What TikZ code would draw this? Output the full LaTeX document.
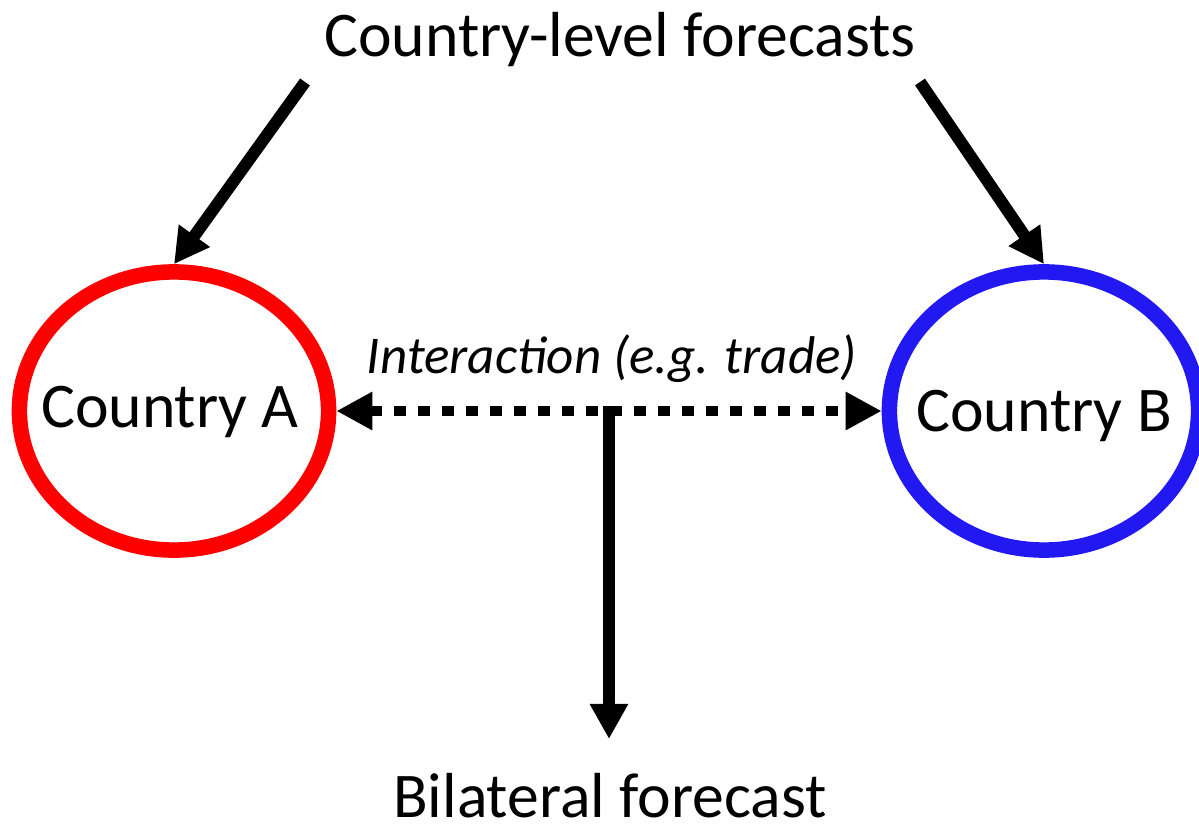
\documentclass[tikz,border=0pt]{standalone}
\usepackage{fontspec}
\setmainfont{Carlito}
\usetikzlibrary{shapes.geometric,arrows.meta}
\definecolor{cred}{RGB}{255,0,0}
\definecolor{cblue}{RGB}{34,24,242}
\tikzset{
  country/.style={ellipse, draw, line width=0.155cm, inner sep=0pt, minimum width=3.09cm, minimum height=2.78cm},
  bigtext/.style={font=\fontsize{18.1}{21}\selectfont, inner sep=0pt, anchor=base},
  smalltext/.style={font=\fontsize{15.1}{18}\selectfont\itshape, inner sep=0pt, anchor=base},
  solidarrow/.style={line width=0.12cm, -{Triangle[length=0.35cm,width=0.36cm]}},
  dotarrow/.style={line width=0.1cm, dash pattern=on 0.115cm off 0.125cm, {Triangle[length=0.36cm,width=0.36cm]}-{Triangle[length=0.36cm,width=0.36cm]}}
}
\begin{document}
\begin{tikzpicture}[x=0.01cm,y=-0.01cm]
\useasboundingbox (0,0) rectangle (1199,827);
\node[country, draw=cred] (A) at (174,411) {};
\node[country, draw=cblue] (B) at (1044,411) {};
\node[bigtext] (Atext) at (170,427) {Country A};
\node[bigtext] (Btext) at (1044,431) {Country B};
\node[bigtext] (title) at (620,56) {Country-level forecasts};
\node[bigtext] (bil) at (610,817) {Bilateral forecast};
\node[smalltext] (inter) at (612,373) {Interaction (e.g. trade)};
\coordinate (s1) at (305,82);
\coordinate (s2) at (920,82);
\coordinate (m) at (609,411);
\coordinate (e) at (609,739);
\draw[solidarrow] (s1) -- (A.north);
\draw[solidarrow] (s2) -- (B.north);
\draw[dotarrow] (A.east) -- (B.west);
\draw[solidarrow] ([yshift=0.05cm]m) -- (e);
\end{tikzpicture}
\end{document}
